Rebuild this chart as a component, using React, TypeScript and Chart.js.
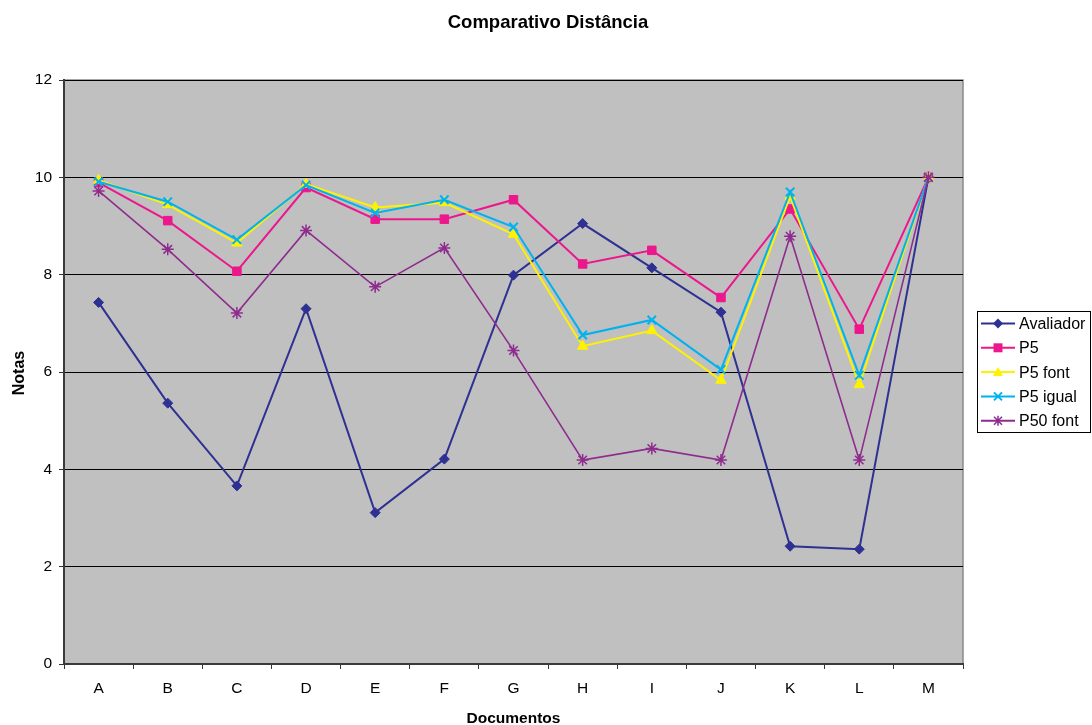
import React, { useEffect, useRef } from 'react';
import { Chart, registerables } from 'chart.js';

Chart.register(...registerables);

const titleText = 'Comparativo Distância';
const xTitle = 'Documentos';
const yTitle = 'Notas';

const categories = ['A', 'B', 'C', 'D', 'E', 'F', 'G', 'H', 'I', 'J', 'K', 'L', 'M'];
const avaliador = [7.43, 5.36, 3.66, 7.3, 3.11, 4.21, 7.99, 9.05, 8.14, 7.23, 2.42, 2.36, 10];
const p5 = [9.89, 9.11, 8.07, 9.79, 9.14, 9.14, 9.54, 8.22, 8.5, 7.53, 9.35, 6.88, 10];
const p5Font = [9.94, 9.44, 8.65, 9.86, 9.38, 9.48, 8.83, 6.53, 6.85, 5.83, 9.61, 5.74, 10];
const p5Igual = [9.91, 9.5, 8.72, 9.84, 9.27, 9.54, 8.98, 6.76, 7.07, 6.05, 9.7, 5.93, 10];
const p50Font = [9.72, 8.52, 7.21, 8.91, 7.75, 8.55, 6.44, 4.19, 4.43, 4.19, 8.79, 4.19, 10];

const seriesNames = ['Avaliador', 'P5', 'P5 font', 'P5 igual', 'P50 font'];
const seriesValues = [avaliador, p5, p5Font, p5Igual, p50Font];
const seriesColors = ['#2E3192', '#EC178C', '#FFF200', '#00B2EE', '#8E2C8E'];
const seriesStyles = ['rectRot', 'rect', 'triangle', 'crossRot', 'star'];
const seriesRadius = [5, 6, 6, 6, 6];

const yMin = 0;
const yMax = 12;
const yStep = 2;

const FONT = '"Liberation Sans", Arial, Helvetica, sans-serif';

function drawMarker(ctx: CanvasRenderingContext2D, style: string, x: number, y: number, color: string) {
  ctx.save();
  ctx.fillStyle = color;
  ctx.strokeStyle = color;
  ctx.lineWidth = 2;
  ctx.beginPath();
  if (style === 'rectRot') {
    ctx.moveTo(x, y - 5);
    ctx.lineTo(x + 5, y);
    ctx.lineTo(x, y + 5);
    ctx.lineTo(x - 5, y);
    ctx.closePath();
    ctx.fill();
  } else if (style === 'rect') {
    ctx.rect(x - 4.5, y - 4.5, 9, 9);
    ctx.fill();
  } else if (style === 'triangle') {
    ctx.moveTo(x, y - 5);
    ctx.lineTo(x + 5, y + 4);
    ctx.lineTo(x - 5, y + 4);
    ctx.closePath();
    ctx.fill();
  } else if (style === 'crossRot') {
    ctx.moveTo(x - 4, y - 4);
    ctx.lineTo(x + 4, y + 4);
    ctx.moveTo(x + 4, y - 4);
    ctx.lineTo(x - 4, y + 4);
    ctx.stroke();
  } else if (style === 'star') {
    ctx.lineWidth = 1.5;
    ctx.moveTo(x - 4, y - 4);
    ctx.lineTo(x + 4, y + 4);
    ctx.moveTo(x + 4, y - 4);
    ctx.lineTo(x - 4, y + 4);
    ctx.moveTo(x, y - 5);
    ctx.lineTo(x, y + 5);
    ctx.stroke();
  }
  ctx.restore();
}

const decorPlugin = {
  id: 'decor',
  beforeDraw(chart: any) {
    const { ctx, chartArea } = chart;
    ctx.save();
    ctx.fillStyle = '#FFFFFF';
    ctx.fillRect(0, 0, chart.width, chart.height);
    ctx.fillStyle = '#C0C0C0';
    ctx.fillRect(chartArea.left, chartArea.top, chartArea.right - chartArea.left, chartArea.bottom - chartArea.top);
    ctx.strokeStyle = '#8A8A8A';
    ctx.lineWidth = 1.5;
    ctx.strokeRect(chartArea.left, chartArea.top, chartArea.right - chartArea.left, chartArea.bottom - chartArea.top);
    ctx.restore();
  },
  afterDraw(chart: any) {
    const { ctx, chartArea } = chart;
    ctx.save();
    ctx.fillStyle = '#000';
    ctx.textAlign = 'center';
    ctx.textBaseline = 'alphabetic';
    ctx.font = `bold 18.5px ${FONT}`;
    ctx.fillText(titleText, 548, 28);
    ctx.font = `bold 15.5px ${FONT}`;
    ctx.fillText(xTitle, (chartArea.left + chartArea.right) / 2, 723);
    ctx.save();
    ctx.translate(24, (chartArea.top + chartArea.bottom) / 2 + 1);
    ctx.rotate(-Math.PI / 2);
    ctx.font = `bold 16px ${FONT}`;
    ctx.fillText(yTitle, 0, 0);
    ctx.restore();

    // legend
    const lx = 977;
    const ly = 311;
    const lw = 114;
    const lh = 122;
    ctx.fillStyle = '#FFFFFF';
    ctx.fillRect(lx, ly, lw, lh);
    ctx.strokeStyle = '#000';
    ctx.lineWidth = 1;
    ctx.strokeRect(lx + 0.5, ly + 0.5, lw - 1, lh - 1);
    ctx.font = `16px ${FONT}`;
    ctx.textAlign = 'left';
    ctx.textBaseline = 'middle';
    for (let i = 0; i < seriesNames.length; i++) {
      const y = 323.5 + i * 24.3;
      ctx.strokeStyle = seriesColors[i];
      ctx.lineWidth = 2;
      ctx.beginPath();
      ctx.moveTo(981, y);
      ctx.lineTo(1015, y);
      ctx.stroke();
      drawMarker(ctx, seriesStyles[i], 998, y, seriesColors[i]);
      ctx.fillStyle = '#000';
      ctx.fillText(seriesNames[i], 1019, y + 1);
    }
    ctx.restore();
  },
};

export default function App() {
  const canvasRef = useRef<HTMLCanvasElement | null>(null);

  useEffect(() => {
    const canvas = canvasRef.current;
    if (!canvas) return;
    const chart = new Chart(canvas, {
      type: 'line',
      data: {
        labels: categories,
        datasets: seriesNames.map((name, i) => ({
          label: name,
          data: seriesValues[i],
          borderColor: seriesColors[i],
          backgroundColor: seriesColors[i],
          pointBackgroundColor: seriesColors[i],
          pointBorderColor: seriesColors[i],
          pointStyle: seriesStyles[i] as any,
          pointRadius: seriesRadius[i],
          pointBorderWidth: seriesStyles[i] === 'crossRot' ? 2 : seriesStyles[i] === 'star' ? 1.5 : 1,
          borderWidth: i === 4 ? 1.6 : 2,
          tension: 0,
          fill: false,
          order: seriesNames.length - i,
        })),
      },
      options: {
        animation: false,
        responsive: false,
        maintainAspectRatio: false,
        layout: { padding: { top: 80, right: 129, bottom: 0, left: 0 } },
        plugins: {
          legend: { display: false },
          title: { display: false },
          tooltip: { enabled: false },
        },
        scales: {
          x: {
            type: 'category',
            offset: true,
            afterFit(scale: any) {
              scale.height = 61;
            },
            grid: {
              display: true,
              offset: true,
              drawOnChartArea: false,
              drawTicks: true,
              tickLength: 5,
              color: '#333',
              lineWidth: 1,
            },
            border: { display: true, color: '#3A3A3A', width: 2 },
            ticks: {
              color: '#000',
              font: { family: FONT, size: 15.5 },
              padding: 10,
              maxRotation: 0,
              autoSkip: false,
            },
          },
          y: {
            min: yMin,
            max: yMax,
            afterFit(scale: any) {
              scale.width = 64;
            },
            grid: {
              color: '#000',
              lineWidth: 1,
              drawTicks: true,
              tickLength: 5,
              tickColor: '#333',
            },
            border: { display: true, color: '#3A3A3A', width: 2 },
            ticks: {
              stepSize: yStep,
              color: '#000',
              font: { family: FONT, size: 15.5 },
              padding: 7,
            },
          },
        },
      },
      plugins: [decorPlugin],
    });
    return () => chart.destroy();
  }, []);

  return (
    <div style={{ position: 'fixed', left: 0, top: 0, width: 1092, height: 725, background: '#fff' }}>
      <canvas ref={canvasRef} width={1092} height={725} style={{ width: 1092, height: 725, display: 'block' }} />
    </div>
  );
}
